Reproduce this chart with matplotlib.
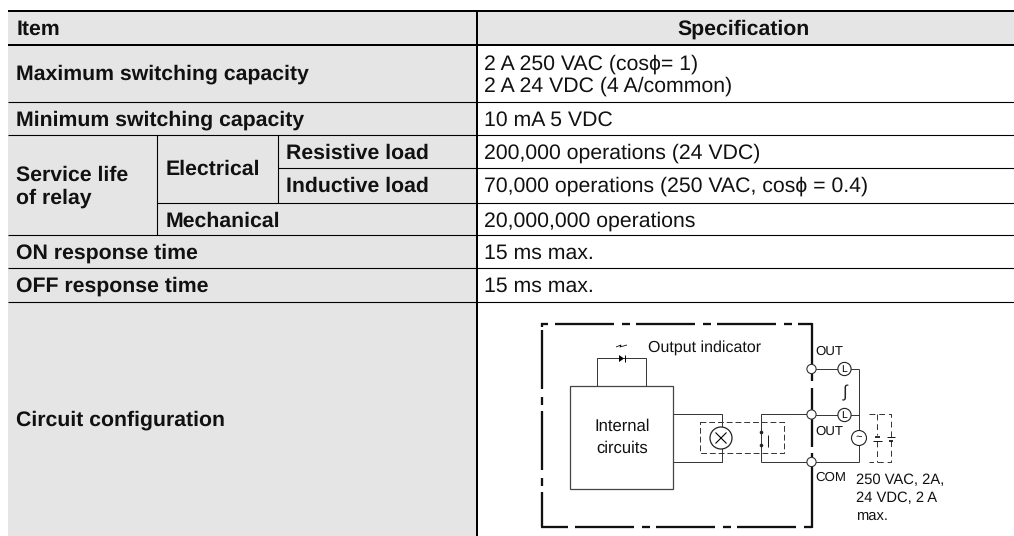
import matplotlib
matplotlib.use("Agg")
import matplotlib.pyplot as plt
from matplotlib.patches import Circle, Rectangle

plt.rcParams['font.family'] = ['Liberation Sans', 'DejaVu Sans']
plt.rcParams['text.hinting'] = 'none'
plt.rcParams['text.hinting_factor'] = 8

# -------------------------
# Table content
# -------------------------
header_item = "Item"
header_spec = "Specification"
row_labels = ["Maximum switching capacity", "Minimum switching capacity",
              "ON response time", "OFF response time", "Circuit configuration"]
life_labels = ["Service life\nof relay", "Electrical", "Resistive load",
               "Inductive load", "Mechanical"]
spec_values = ["2 A 250 VAC (cos\u03d5= 1)\n2 A 24 VDC (4 A/common)", "10 mA 5 VDC",
               "200,000 operations (24 VDC)", "70,000 operations (250 VAC, cos\u03d5 = 0.4)",
               "20,000,000 operations", "15 ms max.", "15 ms max."]
circuit_labels = ["Output indicator", "Internal\ncircuits", "OUT", "OUT", "COM",
                  "250 VAC, 2A,\n24 VDC, 2 A\nmax."]

# -------------------------
# Layout in pixels
# -------------------------
W, H = 1014, 536
LEFT, RIGHT = 8, 1014
COL1, COL2, COL3 = 157, 277.5, 477
ROWS = [11, 44.5, 102, 135, 168, 202.5, 235, 268, 302]
GREY = "#e5e5e5"
FS = 15.3
FS_BODY = 15.3

fig = plt.figure(figsize=(W / 100, H / 100), dpi=100)
ax = fig.add_axes([0, 0, 1, 1])
ax.set_xlim(0, W)
ax.set_ylim(H, 0)
ax.axis("off")


def line(xs, ys, lw=1.0, color="black", **kw):
    ax.plot(xs, ys, color=color, lw=lw * 0.72, solid_capstyle="butt",
            dash_capstyle="butt", **kw)


def label(x, y, s, bold=True, ha="left", fs=None, ls=1.19):
    if fs is None:
        fs = FS if bold else FS_BODY
    ax.text(x, y, s, fontsize=fs, fontweight="bold" if bold else "normal",
            ha=ha, va="center", color="#111111", linespacing=ls)


def dash_dot(start, end, fixed, horizontal):
    # long dash, gap, short dash, gap along one side of the housing
    pos = start
    steps = [(59, True), (8, False), (8, True), (6, False)]
    i = 0
    while pos < end:
        size, drawn = steps[i % 4]
        stop = min(pos + size, end)
        if drawn:
            if horizontal:
                line([pos, stop], [fixed, fixed], lw=2.3, color="#111111")
            else:
                line([fixed, fixed], [pos, stop], lw=2.3, color="#111111")
        pos += size
        i += 1


ax.add_patch(Rectangle((LEFT, ROWS[0]), COL3 - LEFT, H - ROWS[0], fc=GREY, ec="none"))
ax.add_patch(Rectangle((COL3, ROWS[0]), RIGHT - COL3, ROWS[1] - ROWS[0], fc=GREY, ec="none"))

# -------------------------
# Grid
# -------------------------
line([LEFT, RIGHT], [ROWS[0]] * 2, lw=2)
line([LEFT, RIGHT], [ROWS[1]] * 2, lw=2)
for y in [ROWS[2], ROWS[3], ROWS[6], ROWS[7], ROWS[8]]:
    line([LEFT, RIGHT], [y, y], lw=1.1)
line([COL2, RIGHT], [ROWS[4]] * 2, lw=1.1)
line([COL1, RIGHT], [ROWS[5]] * 2, lw=1.1)
line([COL1, COL1], [ROWS[3], ROWS[6]], lw=1.1)
line([COL2, COL2], [ROWS[3], ROWS[5]], lw=1.1)
line([COL3, COL3], [ROWS[0], H], lw=2)

# -------------------------
# Text
# -------------------------
label(16.5, 29, header_item)
label(744, 29, header_spec, ha="center")
label(16.5, 74.5, row_labels[0])
label(16.5, 120, row_labels[1])
label(16.5, 187, life_labels[0])
label(165.5, 169, life_labels[1])
label(286, 153.5, life_labels[2])
label(286, 186, life_labels[3])
label(165.5, 221, life_labels[4])
label(16.5, 253, row_labels[2])
label(16.5, 286, row_labels[3])
label(16.5, 420, row_labels[4])

label(484.5, 75, spec_values[0], bold=False)
label(484.5, 120, spec_values[1], bold=False)
label(484.5, 153.5, spec_values[2], bold=False)
label(484.5, 186, spec_values[3], bold=False)
label(484.5, 221, spec_values[4], bold=False)
label(484.5, 253, spec_values[5], bold=False)
label(484.5, 286, spec_values[6], bold=False)

# -------------------------
# Circuit diagram
# -------------------------
# dash-dot housing
dash_dot(555, 812, 324, True)
line([541, 548], [324, 324], lw=2.3, color="#111111")
dash_dot(330, 527, 542, False)
line([542, 542], [323, 327], lw=2.3, color="#111111")
line([541, 568], [526.5, 526.5], lw=2.3, color="#111111")
dash_dot(575, 812, 526.5, True)
line([812, 812], [323, 381], lw=2.3, color="#111111")
line([812, 812], [388, 447], lw=2.3, color="#111111")
line([812, 812], [453, 527.5], lw=2.3, color="#111111")

# internal circuits box and indicator
GR = "#333333"
ax.add_patch(Rectangle((570, 386), 103, 103, fc="white", ec="#444444", lw=0.9, zorder=3))
line([597, 597, 646, 646], [386, 358, 358, 386], lw=0.9, color="#222222")
ax.fill([619, 619, 624], [355, 362, 358.5], color="black", lw=0, zorder=4)
line([624.5, 624.5], [354.5, 362], lw=1)
line([616, 621, 620, 627], [347, 345, 347, 345], lw=0.8)

# coil and contact wiring
line([673, 721.5, 721.5], [414, 414, 428], lw=0.9, color="#222222")
line([673, 721.5, 721.5], [462, 462, 447], lw=0.9, color="#222222")
ax.add_patch(Circle((721, 438), 11, fc="white", ec="#222222", lw=0.9, zorder=3))
line([715.5, 726.5], [432.5, 443.5], lw=1.1, zorder=4)
line([726.5, 715.5], [432.5, 443.5], lw=1.1, zorder=4)
ax.plot([700, 784, 784, 700, 700], [422, 422, 453, 453, 422], color=GR, lw=0.7,
        ls=(0, (6, 3)))
line([761, 761, 811], [462, 414, 414], lw=0.9, color="#222222")
line([761, 811], [462, 462], lw=0.9, color="#222222")
ax.plot([761, 761], [432, 445], "o", color="#222222", ms=2.6, mew=0)
line([768, 768], [435, 447], lw=0.9)

# terminals and loads
line([812, 859], [369, 369], lw=0.9, color="#222222")
line([812, 859], [415, 415], lw=0.9, color="#222222")
line([812, 859], [462, 462], lw=0.9, color="#222222")
line([859, 859], [369, 462], lw=0.9, color="#222222")
for y in [369, 414.5, 462]:
    ax.add_patch(Circle((811.5, y), 4.6, fc="white", ec="#333333", lw=0.8, zorder=5))
for y in [369, 415]:
    ax.add_patch(Circle((844.5, y), 6.6, fc="white", ec="#222222", lw=0.8, zorder=5))
    ax.text(844.5, y, "L", fontsize=7.5, ha="center", va="center", zorder=6)
ax.add_patch(Circle((859, 438), 7.5, fc="white", ec="#222222", lw=0.8, zorder=5))
ax.text(859, 437.5, "~", fontsize=8, ha="center", va="center", zorder=6)
ax.text(845, 393, "\u222b", fontsize=12, ha="center", va="center", color="#222222")

# dashed DC battery option
bat = (0, (6, 4))
ax.plot([869, 891, 891, 869], [414, 414, 462, 462], color=GR, lw=0.7, ls=bat)
ax.plot([877, 877], [414, 435], color=GR, lw=0.7, ls=bat)
ax.plot([877, 877], [441, 462], color=GR, lw=0.7, ls=bat)
line([873, 882], [441, 441], lw=0.9)
line([875, 879.5], [437, 437], lw=1.6)
line([886.5, 895], [437, 437], lw=0.9)
line([889, 893], [441, 441], lw=1.6)

label(647.5, 348, circuit_labels[0], bold=False, fs=11.5)
label(622, 437.5, circuit_labels[1], bold=False, ha="center", fs=12, ls=1.5)
label(815, 352, circuit_labels[2], bold=False, fs=9.5)
label(815, 432, circuit_labels[3], bold=False, fs=9.5)
label(815, 478, circuit_labels[4], bold=False, fs=9.5)
label(856, 498, circuit_labels[5], bold=False, fs=10.6, ls=1.36)

fig.savefig("out.png", dpi=100)
